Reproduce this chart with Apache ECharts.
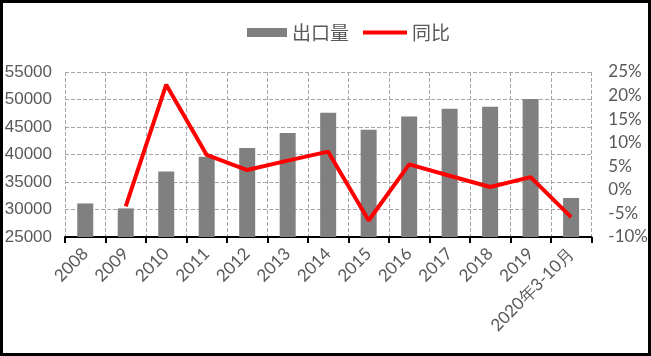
<!DOCTYPE html>
<html><head><meta charset="utf-8">
<script src="https://cdn.jsdelivr.net/npm/echarts@6/dist/echarts.min.js"></script>
<style>html,body{margin:0;padding:0;background:#fff}#c{width:651px;height:356px}</style>
</head><body><div id="c"></div>
<script>
const categories = ['2008','2009','2010','2011','2012','2013','2014','2015','2016','2017','2018','2019','2020年3-10月'];
const exportVolume = [31100, 30200, 36900, 39600, 41200, 43900, 47600, 44500, 46900, 48300, 48700, 50100, 32100];
const yoyPct = [null, -3.5, 22.3, 7.4, 4.2, 6.2, 8.1, -6.5, 5.4, 3.0, 0.6, 2.7, -5.8];
const leftTicks = {min: 25000, max: 55000, interval: 5000};
const rightTicks = {min: -10, max: 25, interval: 5};

const legendText = {fontFamily: 'Noto Sans CJK SC', fontSize: 19, color: '#595959'};
const chart = echarts.init(document.getElementById('c'));
chart.setOption({
  animation: false,
  graphic: [{type:'rect', shape:{x:1.5,y:1.5,width:648,height:353}, style:{fill:'none', stroke:'#000', lineWidth:3}, z: 100}],
  legend: [{
    top: 18, left: 242, itemWidth: 40, itemHeight: 9, icon: 'rect',
    textStyle: legendText, data: ['出口量']
  }, {
    top: 18, left: 358, itemWidth: 44, itemHeight: 4, icon: 'rect',
    textStyle: legendText, data: ['同比']
  }],
  grid: {left: 65, right: 59, top: 72, bottom: 119},
  xAxis: {
    type: 'category', data: categories,
    axisLine: {onZero: false, lineStyle: {color: '#000', width: 2}},
    axisTick: {show: true, length: 6, lineStyle: {color: '#000', width: 2}},
    axisLabel: {rotate: 45, margin: 14, fontFamily: 'Lato', fontSize: 17, color: '#595959', interval: 0},
    splitLine: {show: true, lineStyle: {type: 'dashed', color: '#a6a6a6', width: 1}}
  },
  yAxis: [{
    type: 'value', min: leftTicks.min, max: leftTicks.max, interval: leftTicks.interval,
    axisLine: {show: false}, axisTick: {show: false},
    axisLabel: {margin: 13, fontFamily: 'Liberation Sans', fontSize: 17, color: '#595959', formatter: v => String(v)},
    splitLine: {show: true, lineStyle: {type: 'dashed', color: '#a6a6a6', width: 1}}
  }, {
    type: 'value', min: rightTicks.min, max: rightTicks.max, interval: rightTicks.interval,
    axisLine: {show: false}, axisTick: {show: false},
    axisLabel: {margin: 17, fontFamily: 'Lato', fontSize: 17, color: '#595959', formatter: '{value}%'},
    splitLine: {show: false}
  }],
  series: [{
    name: '出口量', type: 'bar', data: exportVolume, barWidth: 16,
    itemStyle: {color: '#808080'}
  }, {
    name: '同比', type: 'line', yAxisIndex: 1, data: yoyPct,
    showSymbol: false, symbol: 'none', connectNulls: false,
    lineStyle: {color: '#ff0000', width: 4}, itemStyle: {color: '#ff0000'}
  }]
});
</script></body></html>
